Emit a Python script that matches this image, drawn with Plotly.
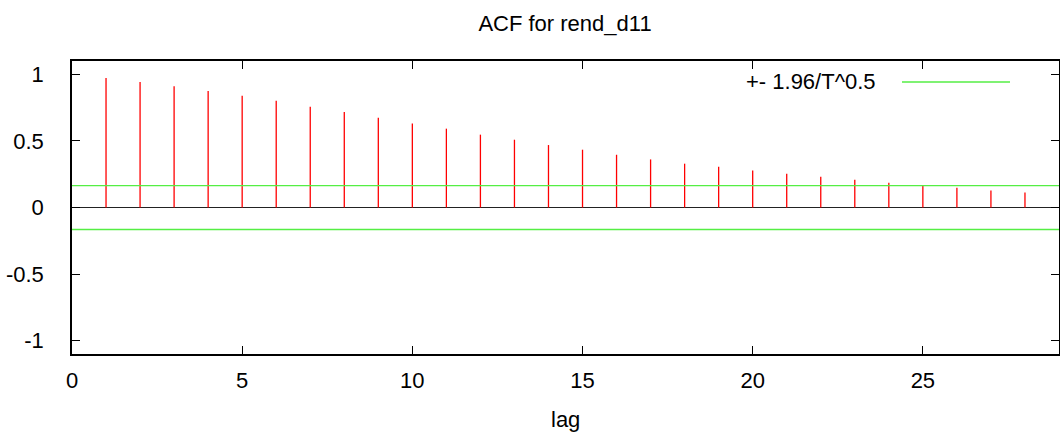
import plotly.graph_objects as go

lags = list(range(1, 29))
acf = [0.973, 0.943, 0.910, 0.875, 0.840, 0.802, 0.757, 0.717, 0.674, 0.630,
       0.592, 0.547, 0.509, 0.469, 0.434, 0.396, 0.361, 0.329, 0.306, 0.278,
       0.253, 0.231, 0.208, 0.186, 0.165, 0.148, 0.128, 0.113]
band = 0.165
x_range = [0, 29]
y_range = [-1.1, 1.1]
x_ticks = [0, 5, 10, 15, 20, 25]
y_ticks = [-1, -0.5, 0, 0.5, 1]
y_ticktext = ["-1", "-0.5", "0", "0.5", "1"]
title_text = "ACF for rend_d11"
x_label = "lag"
legend_label = "+- 1.96/T^0.5"

FONT = "Liberation Sans, Arial, sans-serif"
FS = 22
L, R, T, B = 72, 1059, 61, 354
PW, PH = R - L, B - T

xs, ys = [], []
for l, v in zip(lags, acf):
    xs += [l, l, None]
    ys += [0, v, None]

fig = go.Figure()
fig.add_trace(go.Scatter(x=xs, y=ys, mode="lines",
                         line=dict(color="#ff0000", width=1.3),
                         showlegend=False, hoverinfo="skip"))
fig.add_trace(go.Scatter(x=x_range, y=[band, band], mode="lines",
                         line=dict(color="#55ee44", width=1.3), showlegend=False))
fig.add_trace(go.Scatter(x=x_range, y=[-band, -band], mode="lines",
                         line=dict(color="#55ee44", width=1.3), showlegend=False))

# legend (text before sample, gnuplot style)
fig.add_annotation(xref="paper", yref="paper", x=(878 - L) / PW, y=(B - 82) / PH,
                   text=legend_label, showarrow=False, xanchor="right", yanchor="middle",
                   font=dict(family=FONT, size=FS, color="black"))
fig.add_shape(type="line", xref="paper", yref="paper",
              x0=(902 - L) / PW, x1=(1010 - L) / PW,
              y0=(B - 82) / PH, y1=(B - 82) / PH,
              line=dict(color="#55ee44", width=1.5))

# x axis label
fig.add_annotation(xref="paper", yref="paper", x=0.5, y=-(419 - B) / PH,
                   text=x_label, showarrow=False, xanchor="center", yanchor="middle",
                   font=dict(family=FONT, size=FS, color="black"))

fig.update_layout(
    width=1060, height=434,
    margin=dict(l=L, r=1060 - R, t=T, b=434 - B, autoexpand=False),
    paper_bgcolor="white", plot_bgcolor="white",
    title=dict(text=title_text, x=565 / 1060, xanchor="center", y=1 - 23 / 434, yanchor="middle",
               font=dict(family=FONT, size=FS, color="black")),
    font=dict(family=FONT, size=FS, color="black"),
    showlegend=False,
)
fig.update_xaxes(range=x_range, tickmode="array", tickvals=x_ticks,
                 ticks="inside", ticklen=8, tickcolor="black", showline=True,
                 linecolor="black", linewidth=1.5, mirror="ticks", showgrid=False,
                 zeroline=False, automargin=False, ticklabelstandoff=6)
fig.update_yaxes(range=y_range, tickmode="array", tickvals=y_ticks,
                 ticktext=y_ticktext,
                 ticks="inside", ticklen=8, tickcolor="black", showline=True,
                 linecolor="black", linewidth=1.5, mirror="ticks", showgrid=False,
                 zeroline=True, zerolinecolor="#222222", zerolinewidth=1.3,
                 automargin=False, ticklabelstandoff=22)

fig.write_html("out.html", config={"displayModeBar": False},
               post_script="document.body.style.margin='0px';document.body.style.overflow='hidden';")
